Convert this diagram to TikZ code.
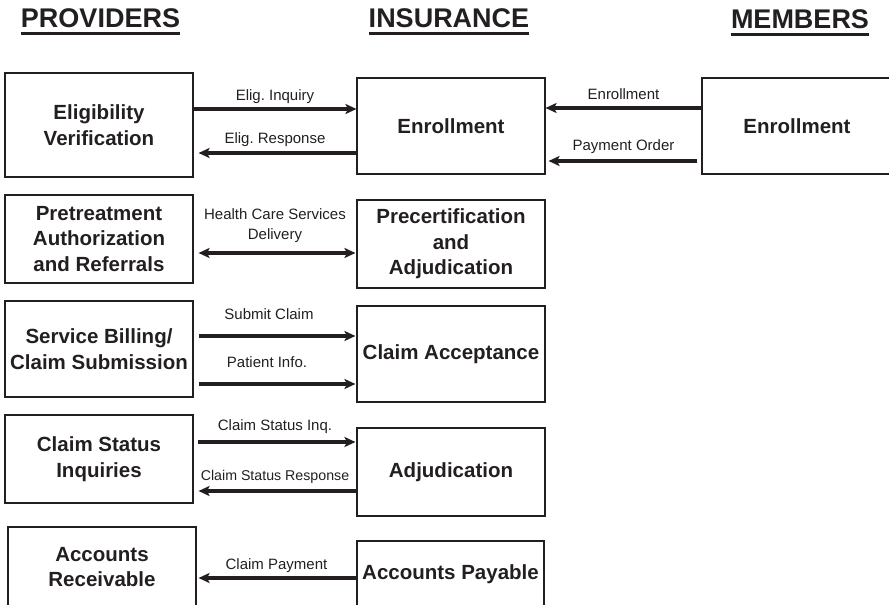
\documentclass[tikz,border=0pt]{standalone}
\usepackage{fontspec}
\setmainfont{Liberation Sans}
\usepackage{xcolor}
\usetikzlibrary{arrows.meta}
\definecolor{ink}{HTML}{231F20}
\frenchspacing

\begin{document}
\begin{tikzpicture}[x=1bp,y=-1bp,>={Stealth[length=11bp,width=10bp,inset=2.5bp]},
  box/.style={draw=ink,line width=1.1bp,inner sep=0pt,align=center,text=ink,font=\fontsize{20.5bp}{25.5bp}\selectfont\bfseries},
  head/.style={inner sep=0pt,anchor=base,text=ink,font=\fontsize{27bp}{30bp}\selectfont\bfseries},
  flow/.style={line width=3.2bp,draw=ink},
  lbl/.style={inner sep=0pt,text=ink,align=center,text depth=0pt,font=\fontsize{15bp}{20bp}\selectfont}]
\useasboundingbox (0,0) rectangle (889,605);
\clip (0,0) rectangle (889,605);
\node[head] (hprov) at (100.5,28) {PROVIDERS};
\node[head] (hins) at (449,28) {INSURANCE};
\node[head] (hmem) at (800,29) {MEMBERS};
\foreach \h in {hprov,hins,hmem}
  \draw[line width=3bp,draw=ink] ([yshift=-5.5bp]\h.base west) -- ([yshift=-5.5bp]\h.base east);
\node[box,minimum width=188bp,minimum height=104bp] (elig) at (99,125) {Eligibility\\Verification};
\node[box,minimum width=188bp,minimum height=96bp] (enrI) at (451,126) {Enrollment};
\node[box,minimum width=190bp,minimum height=96bp] (enrM) at (797,126) {Enrollment};
\node[box,minimum width=188bp,minimum height=88bp] (pret) at (99,239) {Pretreatment\\Authorization\\and Referrals};
\node[box,minimum width=188bp,minimum height=88bp] (precert) at (451,244) {Precertification\\and\\Adjudication};
\node[box,minimum width=188bp,minimum height=96bp] (bill) at (99,349) {Service Billing/\\Claim Submission};
\node[box,minimum width=188bp,minimum height=96bp] (accept) at (451,354) {Claim Acceptance};
\node[box,minimum width=188bp,minimum height=88bp] (status) at (99,459) {Claim Status\\Inquiries};
\node[box,minimum width=188bp,minimum height=88bp] (adjud) at (451,472) {Adjudication};
\node[box,minimum width=188bp,minimum height=80bp] (recv) at (102,567) {Accounts\\Receivable};
\node[box,minimum width=187bp,minimum height=66bp] (pay) at (450.5,574) {Accounts Payable};
\draw[flow,->] ([yshift=16bp]elig.east) -- ([yshift=16bp]elig.east -| enrI.west)
  node[lbl,midway,above=7bp] (tInq) {Elig. Inquiry};
\draw[flow,->,shorten >=5bp] ([yshift=-27bp]enrI.west) -- ([yshift=-27bp]enrI.west -| elig.east)
  node[lbl,midway,above=8bp] (tResp) {Elig. Response};
\draw[flow,->] ([yshift=18bp]enrM.west) -- ([yshift=18bp]enrM.west -| enrI.east)
  node[lbl,midway,above=7bp] (tEnr) {Enrollment};
\draw[flow,->,shorten <=4bp,shorten >=3bp] ([yshift=-35bp]enrM.west) -- ([yshift=-35bp]enrM.west -| enrI.east)
  node[lbl,midway,above=9bp] (tPay) {Payment Order};
\draw[flow,<->,shorten <=5bp,shorten >=1bp] ([yshift=-14bp]pret.east) -- ([yshift=-14bp]pret.east -| precert.west)
  node[lbl,midway,above=12bp] (tHcs) {Health Care Services\\Delivery};
\draw[flow,->,shorten <=5bp,shorten >=1bp] ([yshift=13bp]bill.east) -- ([yshift=13bp]bill.east -| accept.west)
  node[lbl,midway,above=15bp,xshift=-6bp] (tSub) {Submit Claim};
\draw[flow,->,shorten <=5bp,shorten >=1bp] ([yshift=-35bp]bill.east) -- ([yshift=-35bp]bill.east -| accept.west)
  node[lbl,midway,above=15bp,xshift=-8bp] (tPat) {Patient Info.};
\draw[flow,->,shorten <=4bp,shorten >=1bp] ([yshift=17bp]status.east) -- ([yshift=17bp]status.east -| adjud.west)
  node[lbl,midway,above=10bp] (tSti) {Claim Status Inq.};
\draw[flow,->,shorten >=5bp] ([yshift=-19bp]adjud.west) -- ([yshift=-19bp]adjud.west -| status.east)
  node[lbl,midway,above=9bp,font=\fontsize{14.2bp}{18bp}\selectfont] (tStr) {Claim Status Response};
\draw[flow,->,shorten >=2bp] ([yshift=-4bp]pay.west) -- ([yshift=-4bp]pay.west -| recv.east)
  node[lbl,midway,above=7bp] (tCp) {Claim Payment};
\end{tikzpicture}
\end{document}
